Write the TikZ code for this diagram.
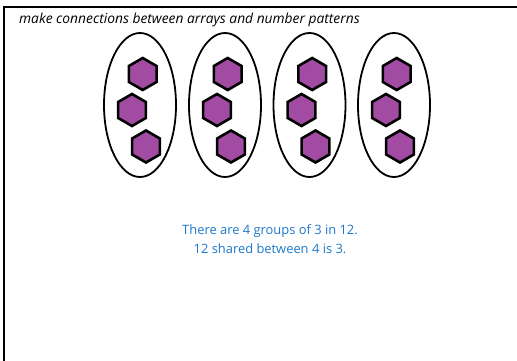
\documentclass[tikz,border=0pt]{standalone}
\usepackage{fontspec}
\setmainfont{Open Sans}
\usetikzlibrary{shapes.geometric}
\definecolor{hexpurple}{HTML}{A24BA2}
\definecolor{textblue}{HTML}{1C78CC}
\tikzset{
  groupring/.style={draw=black, line width=1.8pt, ellipse, minimum width=72pt, minimum height=144pt, inner sep=0pt},
  hexcounter/.style={draw=black, fill=hexpurple, line width=2.6pt, line join=miter, regular polygon, regular polygon sides=6, shape border rotate=30, minimum size=32pt, inner sep=0pt},
  frameline/.style={draw=black, line width=2pt},
  captiontext/.style={anchor=base, text=textblue, inner sep=0pt, font=\fontsize{12.9}{14}\selectfont},
}
\begin{document}
\begin{tikzpicture}[x=1pt,y=-1pt]
\useasboundingbox (0,0) rectangle (517,361);
\coordinate (tl) at (4,7);
\coordinate (tr) at (517,7);
\coordinate (bl) at (4,361);
\draw[frameline] (tr) -- (tl) -- (bl);
\node[anchor=base west, inner sep=0pt, font=\itshape\fontsize{13.8}{15}\selectfont] (title) at (19,24) {make connections between arrays and number patterns};
\foreach \i/\cx in {1/140,2/225,3/309.5,4/394}{
  \node[groupring] (ring\i) at (\cx,105) {};
  \node[hexcounter] (hexa\i) at ([shift={(2.7,-31)}]ring\i.center) {};
  \node[hexcounter] (hexb\i) at ([shift={(-8,5)}]ring\i.center) {};
  \node[hexcounter] (hexc\i) at ([shift={(6,41.5)}]ring\i.center) {};
}
\node[captiontext] (caption1) at (270,234) {There are 4 groups of 3 in 12.};
\node[captiontext] (caption2) at (270,253.5) {12 shared between 4 is 3.};
\end{tikzpicture}
\end{document}
